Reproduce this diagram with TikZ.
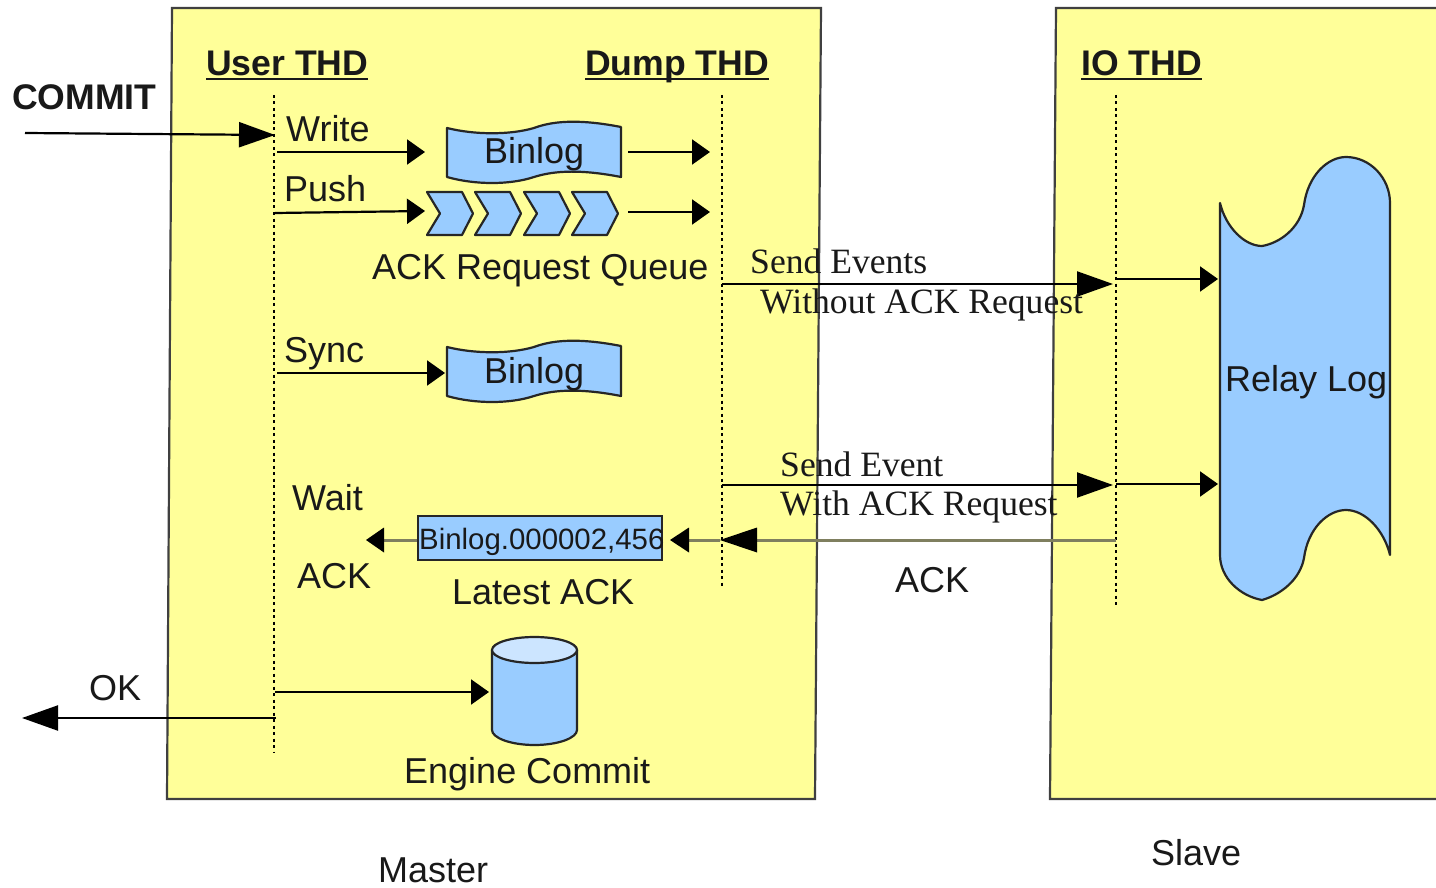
\documentclass[tikz,border=0pt]{standalone}
\usepackage{fontspec}
\setmainfont{Liberation Sans}
\newfontfamily\serifface{Liberation Serif}
\usetikzlibrary{arrows.meta}
\definecolor{boxyellow}{HTML}{FFFF99}
\definecolor{shapeblue}{HTML}{99CCFF}
\definecolor{shapelight}{HTML}{CCE5FF}
\definecolor{ackline}{HTML}{7F7F5F}
\newcommand{\ulbox}[1]{\setbox0=\hbox{#1}\rlap{\rule[-4.5pt]{\wd0}{2pt}}\box0}
\tikzset{
  x=1pt,y=-1pt,
  panel/.style={draw=black!75,line width=2.2pt,fill=boxyellow},
  lifeline/.style={line width=1.6pt,dash pattern=on 3pt off 3.5pt},
  blueshape/.style={draw=black!85,line width=2.2pt,fill=shapeblue,line join=round},
  small/.style={-{Triangle[length=18pt,width=25pt]},line width=2.2pt,black},
  big/.style={-{Triangle[length=36pt,width=25pt]},line width=2.2pt,black},
  label/.style={anchor=base west,inner sep=0pt,font=\fontsize{36}{40}\selectfont,text=black!90},
  head/.style={label,font=\fontsize{35.6}{40}\selectfont\bfseries},
  msg/.style={anchor=base west,inner sep=0pt,font=\fontsize{35.6}{40}\selectfont\serifface,text=black!90},
  binlogwave/.pic={
    \path[blueshape] (0,0) .. controls (28,7) and (63,7) .. (87,0)
      .. controls (103,-6) and (128,-10) .. (174,-1) -- (174,49)
      .. controls (128,40) and (103,44) .. (87,49)
      .. controls (63,57) and (28,57) .. (0,49) -- cycle;
  },
  chevronshape/.pic={
    \path[blueshape] (0,0) -- (35,0) -- (46,21.5) -- (35,43) -- (0,43) -- (13,21.5) -- cycle;
  }
}
\begin{document}
\begin{tikzpicture}
\clip (0,0) rectangle (1436,888);
\fill[white] (0,0) rectangle (1436,888);
% panels
\path[panel] (172,8) -- (821,8) -- (815,799) -- (167,799) -- cycle;
\path[panel] (1056,8) -- (1450,8) -- (1450,799) -- (1050,799) -- cycle;
% free ends
\coordinate (userTop) at (274,95);
\coordinate (userEnd) at (274,752);
\coordinate (dumpTop) at (722,95);
\coordinate (dumpEnd) at (722,587);
\coordinate (ioTop) at (1116,95);
\coordinate (ioEnd) at (1116,606);
\coordinate (commitIn) at (25,133);
\coordinate (commitTip) at (275,135);
\coordinate (writeS) at (277,152);
\coordinate (writeT) at (425,152);
\coordinate (pushS) at (275,213);
\coordinate (pushT) at (425,211);
\coordinate (outAS) at (628,152);
\coordinate (outAT) at (710,152);
\coordinate (outBS) at (628,212);
\coordinate (outBT) at (710,212);
\coordinate (syncS) at (277,373);
\coordinate (syncT) at (445,373);
\coordinate (evS) at (722,284);
\coordinate (evT) at (1113,284);
\coordinate (evRS) at (1116,279);
\coordinate (evRT) at (1218,279);
\coordinate (sendS) at (722,485);
\coordinate (sendT) at (1113,485);
\coordinate (sendRS) at (1116,484);
\coordinate (sendRT) at (1218,484);
\coordinate (ackS) at (1116,540);
\coordinate (ackT) at (745,540);
\coordinate (ackU) at (720,540);
\coordinate (ackV) at (680,540);
\coordinate (ackW) at (375,540);
% lifelines
\draw[lifeline] (userTop) -- (userEnd);
\draw[lifeline] (dumpTop) -- (dumpEnd);
\draw[lifeline] (ioTop) -- (ioEnd);
% shapes
\pic at (447,128) {binlogwave};
\pic at (447,347) {binlogwave};
\pic at (427,192) {chevronshape};
\pic at (475,192) {chevronshape};
\pic at (524,192) {chevronshape};
\pic at (572,192) {chevronshape};
\path[blueshape] (1220,203) .. controls (1226,228) and (1245,246) .. (1262,246)
  .. controls (1280,243) and (1300,228) .. (1304,205)
  .. controls (1308,175) and (1328,157) .. (1346,157)
  .. controls (1370,157) and (1390,178) .. (1390,203)
  -- (1390,555)
  .. controls (1384,530) and (1365,510) .. (1346,510)
  .. controls (1328,510) and (1308,528) .. (1304,558)
  .. controls (1300,580) and (1280,595) .. (1262,600)
  .. controls (1240,596) and (1220,578) .. (1220,555) -- cycle;
% cylinder
\path[blueshape] (492,650) -- (492,730) .. controls (492,738) and (511,745) .. (534.5,745)
  .. controls (558,745) and (577,738) .. (577,730) -- (577,650) -- cycle;
\path[blueshape,fill=shapelight] (534.5,650) ellipse[x radius=42.5,y radius=13];
\coordinate (engS) at (275,692);
\coordinate (engT) at (489,692);
\coordinate (okS) at (276,718);
\coordinate (okT) at (22,718);
% ack box
\node[draw=black!85,line width=2.2pt,fill=shapeblue,minimum width=244pt,minimum height=44pt,inner sep=0pt] (ackbox) at (540,538) {};
% connectors
\draw[big] (commitIn) -- (commitTip);
\draw[small] (writeS) -- (writeT);
\draw[small] (pushS) -- (pushT);
\draw[small] (outAS) -- (outAT);
\draw[small] (outBS) -- (outBT);
\draw[small] (syncS) -- (syncT);
\draw[big] (evS) -- (evT);
\draw[small] (evRS) -- (evRT);
\draw[big] (sendS) -- (sendT);
\draw[small] (sendRS) -- (sendRT);
\draw[line width=3pt,ackline] (ackS) -- (ackT);
\fill[black] (720,540) -- (757,527.5) -- (757,552.5) -- cycle;
\draw[line width=3pt,ackline] (ackU) -- (ackV);
\fill[black] (670,540) -- (689,527.5) -- (689,552.5) -- cycle;
\draw[line width=3pt,ackline] (ackbox.west |- ackW) -- (ackW);
\fill[black] (366,540) -- (384,527.5) -- (384,552.5) -- cycle;
\draw[small] (engS) -- (engT);
\draw[big] (okS) -- (okT);
% labels
\node[head] (commit) at (12,110) {COMMIT};
\node[head] (user) at (206,76) {\ulbox{User THD}};
\node[head] (dump) at (585,76) {\ulbox{Dump THD}};
\node[head] (io) at (1081,76) {\ulbox{IO THD}};
\node[label] (write) at (286,142) {Write};
\node[label] (push) at (284,202) {Push};
\node[label] (sync) at (284,362) {Sync};
\node[label] (binlogA) at (484,164) {Binlog};
\node[label] (binlogB) at (484,383) {Binlog};
\node[label] (queue) at (372,279) {ACK Request Queue};
\node[label] (wait) at (292,510) {Wait};
\node[label] (waitack) at (297,588) {ACK};
\node[label] (latest) at (452,604) {Latest ACK};
\node[label] (engine) at (404,783) {Engine Commit};
\node[label] (ok) at (89,700) {OK};
\node[label] (ack) at (895,592) {ACK};
\node[label] (relay) at (1225,391) {Relay Log};
\node[label] (master) at (378,882) {Master};
\node[label] (slave) at (1151,865) {Slave};
\node[msg] (m1) at (750,273) {Send Events};
\node[msg] (m2) at (760,313) {Without ACK Request};
\node[msg] (m3) at (780,476) {Send Event};
\node[msg] (m4) at (780,515) {With ACK Request};
\node[anchor=base west,inner sep=0pt,font=\fontsize{29.4}{32}\selectfont,text=black!90] (ackpos) at (419,549) {Binlog.000002,456};
\end{tikzpicture}
\end{document}
